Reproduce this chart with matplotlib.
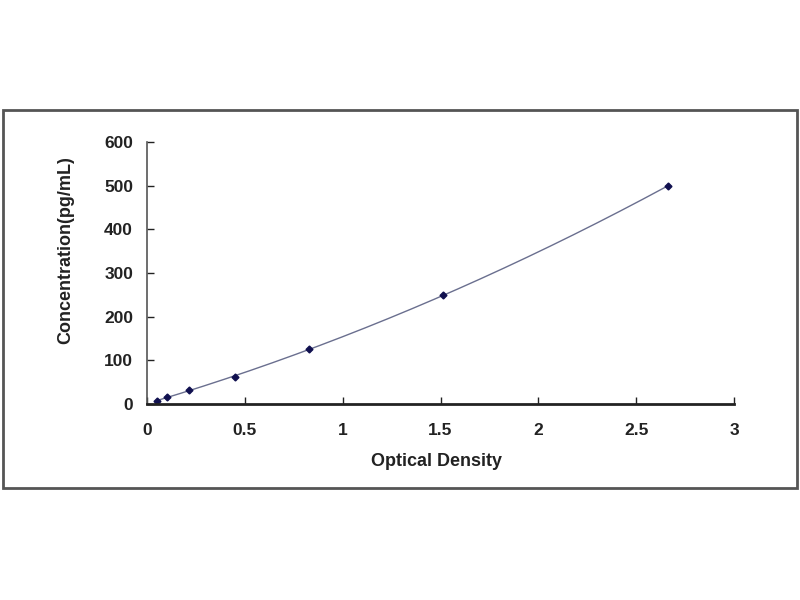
import numpy as np
import matplotlib
matplotlib.use("Agg")
import matplotlib.pyplot as plt
from matplotlib.patches import Rectangle

# Standard curve points
od = [0.051, 0.102, 0.215, 0.45, 0.83, 1.515, 2.665]
conc = [7.8, 15.6, 31.25, 62.5, 125, 250, 500]

x_ticks = [0, 0.5, 1, 1.5, 2, 2.5, 3]
x_tick_labels = ['0', '0.5', '1', '1.5', '2', '2.5', '3']
y_ticks = [0, 100, 200, 300, 400, 500, 600]

plt.rcParams['font.family'] = ['Liberation Sans', 'DejaVu Sans']

fig = plt.figure(figsize=(8, 6), dpi=100)
ax = fig.add_axes([0.18375, 0.3267, 0.73375, 0.4367])

# outer frame of the chart area
fig.patches.append(Rectangle((0.004, 0.1867), 0.992, 0.63, transform=fig.transFigure,
                             fill=False, edgecolor='#555555', linewidth=2))

# fitted curve (quadratic trendline through the standards)
coef = np.polyfit(od, conc, 2)
xs = np.linspace(min(od), max(od), 200)
ax.plot(xs, np.polyval(coef, xs), color='#6a6f8f', linewidth=1)
ax.plot(od, conc, linestyle='none', marker='D', markersize=3.5, color='#10104f')

ax.set_xlim(0, 3)
ax.set_ylim(0, 600)
ax.set_xticks(x_ticks)
ax.set_xticklabels(x_tick_labels)
ax.set_yticks(y_ticks)

for side in ['top', 'right']:
    ax.spines[side].set_visible(False)
ax.spines['left'].set_color('#555555')
ax.spines['bottom'].set_color('#222222')
ax.spines['bottom'].set_linewidth(2)
ax.spines['left'].set_linewidth(1.2)

ax.tick_params(axis='both', direction='in', length=5, width=1, labelsize=12.5, colors='#222222')
ax.tick_params(axis='x', pad=14)
ax.tick_params(axis='y', pad=10)
for lab in ax.get_xticklabels() + ax.get_yticklabels():
    lab.set_fontweight('bold')

ax.set_xlabel('Optical Density', fontsize=13, fontweight='bold', color='#222222', va='center')
ax.set_ylabel('Concentration(pg/mL)', fontsize=13, fontweight='bold', color='#222222', va='center')
ax.xaxis.set_label_coords(0.494, -0.221)
ax.yaxis.set_label_coords(-0.138, 0.588)

fig.savefig('out.png', dpi=100)
